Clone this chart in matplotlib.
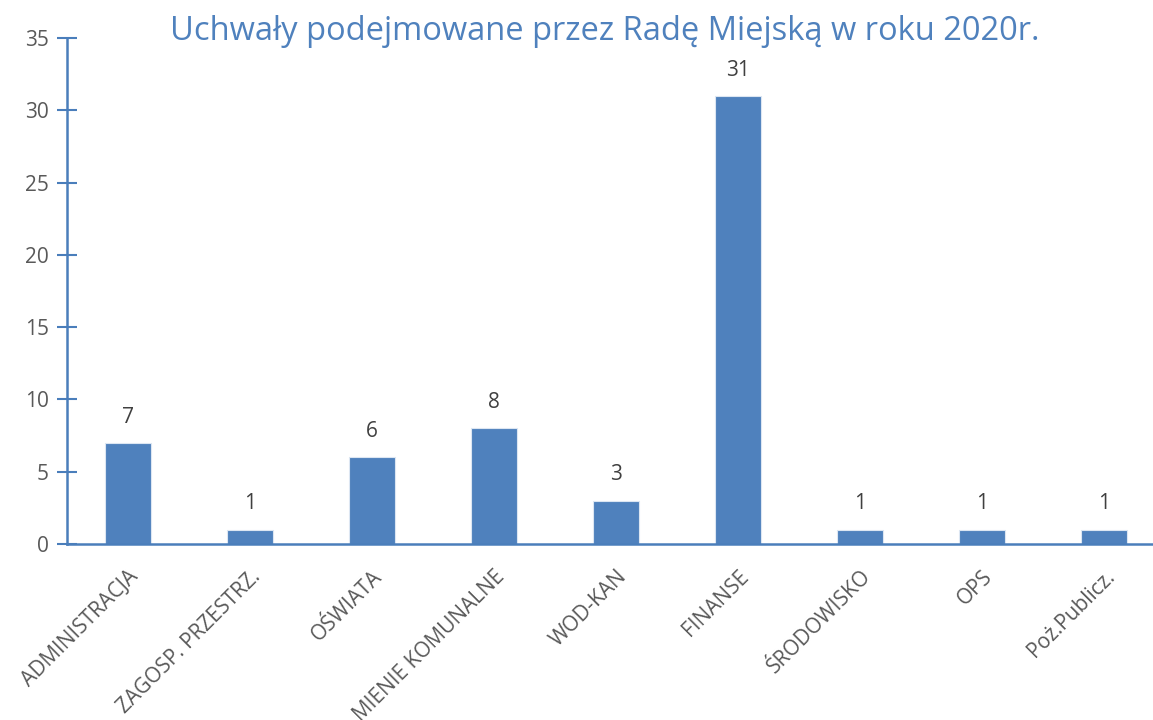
import matplotlib
matplotlib.use("Agg")
import matplotlib.pyplot as plt

categories = ["ADMINISTRACJA", "ZAGOSP. PRZESTRZ.", "OŚWIATA", "MIENIE KOMUNALNE",
              "WOD-KAN", "FINANSE", "ŚRODOWISKO", "OPS", "Poż.Publicz."]
values = [7, 1, 6, 8, 3, 31, 1, 1, 1]
yticks = [0, 5, 10, 15, 20, 25, 30, 35]
title = "Uchwały podejmowane przez Radę Miejską w roku 2020r."

plt.rcParams['font.family'] = ['Open Sans', 'DejaVu Sans']
W, H = 1153, 720
fig = plt.figure(figsize=(W/100, H/100), dpi=100)
left, right, bottom, top = 67, 1165, 544, 38
ax = fig.add_axes([left/W, 1-bottom/H, (right-left)/W, (bottom-top)/H])

blue = "#4F81BD"
axcol = "#4A7EBB"
x = list(range(len(categories)))
ax.bar(x, values, width=0.37, color=blue, edgecolor="#DCE6F2", linewidth=0.8, zorder=2)
for xi, v in zip(x, values):
    ax.annotate(str(v), (xi, v), xytext=(0, 11), textcoords="offset points",
                ha="center", va="bottom", fontsize=15, color="#404040")

ax.set_xlim(-0.5, len(categories) - 0.5)
ax.set_ylim(0, 35)
ax.set_yticks(yticks)
ax.set_xticks(x)
ax.set_xticklabels(categories, rotation=45, ha="right", rotation_mode="anchor",
                   fontsize=15, color="#595959")
ax.tick_params(axis="x", length=0, pad=16)
ax.tick_params(axis="y", direction="inout", length=14, width=1.5, color=axcol,
               labelsize=15, labelcolor="#595959", pad=6)
for s in ["top", "right"]:
    ax.spines[s].set_visible(False)
for s in ["left", "bottom"]:
    ax.spines[s].set_color(axcol)
    ax.spines[s].set_linewidth(1.8)

fig.text(605/W, 1-31/H, title, ha="center", va="center", fontsize=23.5, color=blue)
fig.savefig("out.png", dpi=100)
